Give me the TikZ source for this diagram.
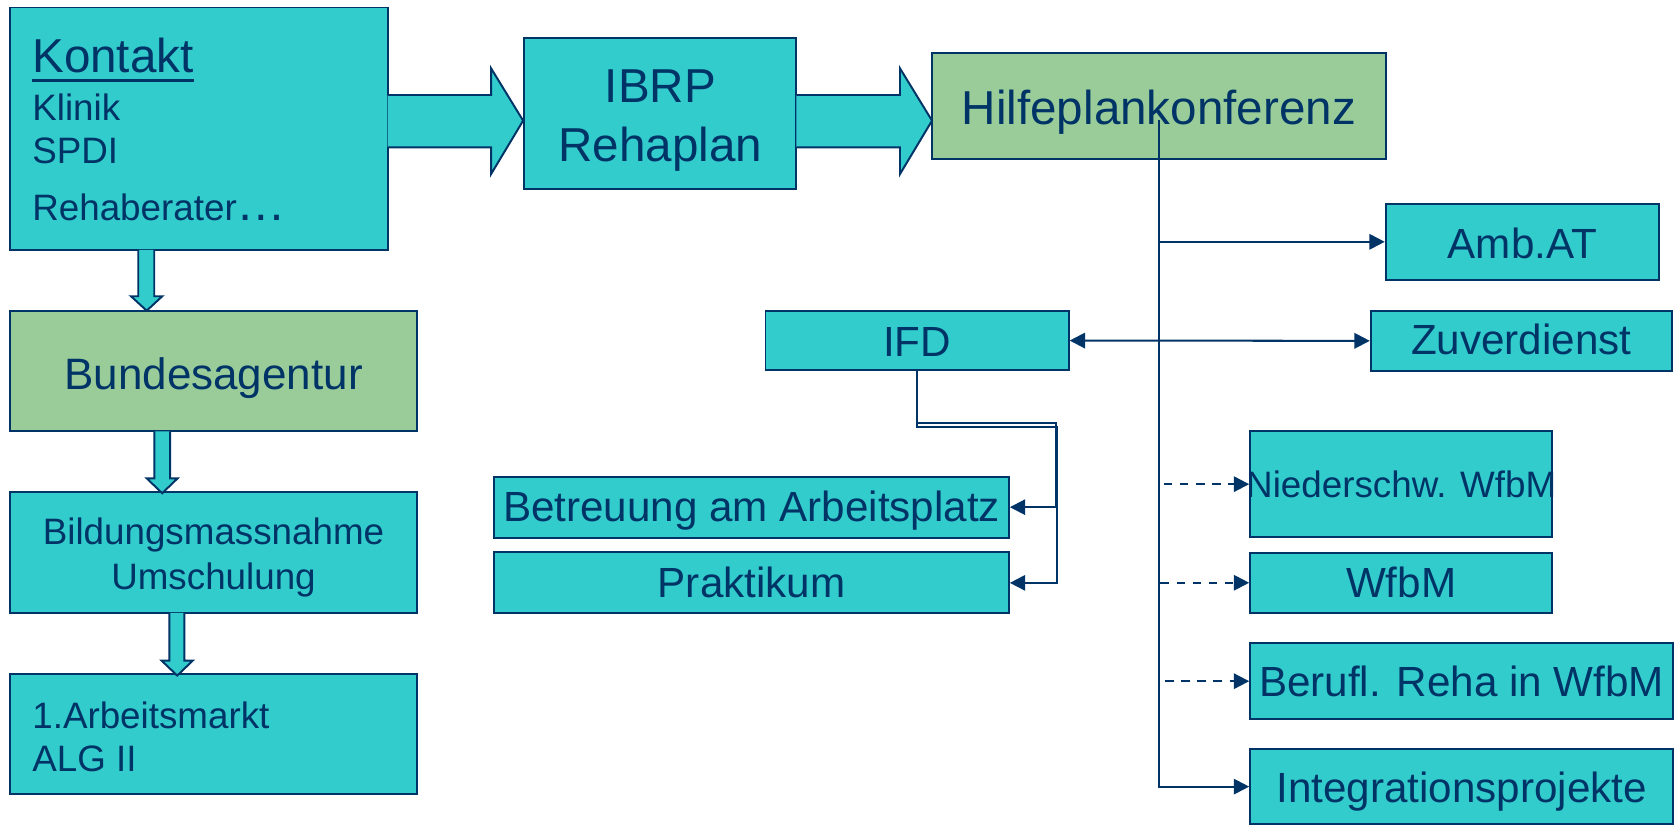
\documentclass[tikz,border=0pt]{standalone}
\usepackage{fontspec}
\setmainfont{Liberation Sans}
\usetikzlibrary{arrows.meta,fit,calc}
\definecolor{tealc}{HTML}{33CCCC}
\definecolor{greenc}{HTML}{99CC99}
\definecolor{navyc}{HTML}{003366}
\tikzset{
  box/.style={draw=navyc, line width=1.3pt, fill=tealc, inner sep=0pt, rectangle},
  gbox/.style={box, fill=greenc},
  barrow/.style={draw=navyc, line width=1.3pt, fill=tealc, line join=miter},
  fbig/.style={font=\fontsize{31.7pt}{38pt}\selectfont, text=navyc, inner sep=0pt},
  fbund/.style={font=\fontsize{29.3pt}{35pt}\selectfont, text=navyc, inner sep=0pt},
  fmid/.style={font=\fontsize{28.1pt}{34pt}\selectfont, text=navyc, inner sep=0pt},
  fsmall/.style={font=\fontsize{24.5pt}{30pt}\selectfont, text=navyc, inner sep=0pt},
  conn/.style={draw=navyc, line width=1.35pt},
  tip/.style={-{Triangle[length=0.36cm,width=0.36cm]}},
  dconn/.style={conn, tip, dash pattern=on 5.8pt off 4.9pt},
}
\begin{document}
\begin{tikzpicture}[x=0.025cm, y=-0.025cm]
\useasboundingbox (0,0) rectangle (1568,772);
% boxes
\node[box,  fit={(9,7) (363,234)}] (kontakt) {};
\node[box,  fit={(491,36) (746,177)}] (ibrp) {};
\node[gbox, fit={(873,50) (1298,149)}] (hpk) {};
\node[box,  fit={(1298,191) (1554,262)}] (amb) {};
\node[box,  fit={(1284,291) (1566,347.5)}] (zuv) {};
\node[box,  fit={(717,291) (1001,347)}] (ifd) {};
\node[box,  fit={(463,446.5) (945,503.6)}] (betr) {};
\node[box,  fit={(463,517.4) (945,574.5)}] (prak) {};
\node[box,  fit={(1171,404) (1454,503)}] (nied) {};
\node[box,  fit={(1171,517.7) (1454,574)}] (wfbm) {};
\node[box,  fit={(1171,602.6) (1567,673.5)}] (berufl) {};
\node[box,  fit={(1171,701.6) (1567,772)}] (integ) {};
\node[gbox, fit={(9,291) (391,404)}] (bundes) {};
\node[box,  fit={(9,461) (391,574)}] (bild) {};
\node[box,  fit={(9,631) (391,744)}] (arbeit) {};
% block arrows
\draw[barrow] (363,89) -- (460,89) -- (460,64) -- (490,113) -- (460,163) -- (460,138) -- (363,138);
\draw[barrow] (746,89) -- (843,89) -- (843,64) -- (873,113) -- (843,163) -- (843,138) -- (746,138);
\draw[barrow] (129.5,234) -- (129.5,277.5) -- (122.7,277.5) -- (137.4,291) -- (152,277.5) -- (144.5,277.5) -- (144.5,234);
\draw[barrow] (144.6,404) -- (144.6,448) -- (137.4,448) -- (151.9,462) -- (166.4,448) -- (159.3,448) -- (159.3,404);
\draw[barrow] (158.6,574) -- (158.6,618.8) -- (151.4,618.8) -- (166,632.8) -- (180.5,618.8) -- (172.7,618.8) -- (172.7,574);
% texts
\node[fbig, anchor=base west] (tkontakt) at (30,68) {Kontakt};
\draw[navyc, line width=2.1pt] ($(tkontakt.base west)+(0,7)$) -- ($(tkontakt.base east)+(0,7)$);
\node[fsmall, anchor=base west] (tklinik) at (30,113) {Klinik};
\node[fsmall, anchor=base west] (tspdi) at (30,153.6) {SPDI};
\node[fsmall, anchor=base west] (treha) at (30,206.7) {Rehaberater{\fontsize{33pt}{38pt}\selectfont …}};
\node[fbig, anchor=base] (tibrp) at (618.5,96) {IBRP};
\node[fbig, anchor=base] (trehaplan) at (618.5,151.4) {Rehaplan};
\node[fbig, anchor=base] (thpk) at (1085.5,117) {Hilfeplankonferenz};
\node[fbund, anchor=base] (tbundes) at (200,365) {Bundesagentur};
\node[fsmall, anchor=base] (tbild1) at (200,509.6) {Bildungsmassnahme};
\node[fsmall, anchor=base] (tbild2) at (200,552) {Umschulung};
\node[fsmall, anchor=base west] (tarb1) at (30,682) {1.Arbeitsmarkt};
\node[fsmall, anchor=base west] (tarb2) at (30,723) {ALG II};
\node[fmid, anchor=base] (tamb) at (1426,241.7) {Amb.AT};
\node[fmid, anchor=base] (tzuv) at (1425,332.5) {Zuverdienst};
\node[fmid, anchor=base] (tifd) at (859,333.5) {IFD};
\node[fmid, anchor=base] (tbetr) at (704,488.6) {Betreuung am Arbeitsplatz};
\node[fmid, anchor=base] (tprak) at (704,559.8) {Praktikum};
\node[fsmall, anchor=base] (tnied) at (1312.5,466) {Niederschw. WfbM};
\node[fmid, anchor=base] (twfbm) at (1312.5,560) {WfbM};
\node[fmid, anchor=base] (tberufl) at (1369,652) {Berufl. Reha in WfbM};
\node[fmid, anchor=base] (tinteg) at (1369,751.8) {Integrationsprojekte};
% connectors
\coordinate (vtop) at (1086,112);
\draw[conn, tip] (vtop) |- (integ.west);
\draw[conn, tip] (vtop |- amb.west) -- (amb.west);
\draw[conn, {Triangle[length=0.36cm,width=0.36cm]}-{Triangle[length=0.36cm,width=0.36cm]}] (ifd.east) -- (zuv.west);
\draw[dconn] ($(vtop |- nied.west)+(4,0)$) -- (nied.west);
\draw[dconn] ($(vtop |- wfbm.west)+(1,0)$) -- (wfbm.west);
\draw[dconn] ($(vtop |- berufl.west)+(5.5,0)$) -- (berufl.west);
\draw[conn, tip] (ifd.south) |- (989,396) |- (betr.east);
\draw[conn, tip] (ifd.south) |- (990.5,399.5) |- (prak.east);
\end{tikzpicture}
\end{document}
